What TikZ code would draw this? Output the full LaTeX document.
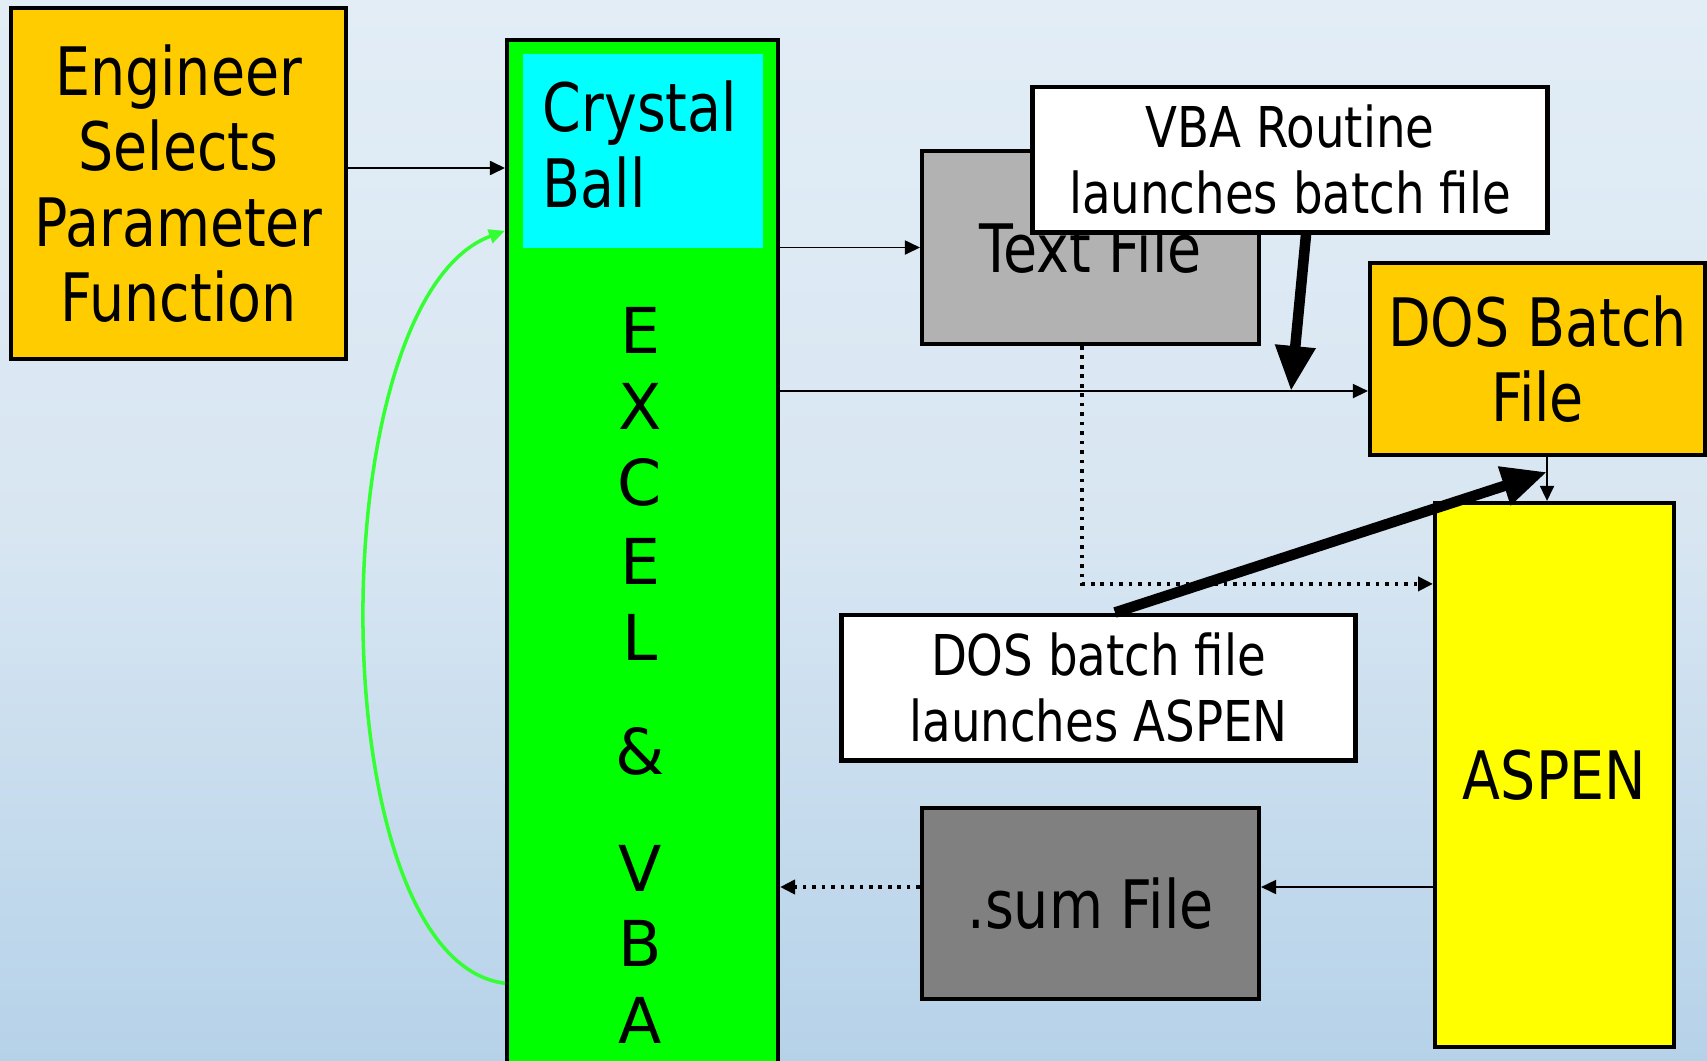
\documentclass[tikz,border=0pt]{standalone}
\usepackage{fontspec}
\setmainfont{DejaVu Sans}
\newfontfamily\narrowfont[FakeStretch=0.83]{DejaVu Sans}
\usepackage{tikz}
\usetikzlibrary{arrows.meta}
\definecolor{amber}{RGB}{255, 204, 0}
\definecolor{excelgreen}{RGB}{0, 255, 0}
\definecolor{ballcyan}{RGB}{0, 255, 255}
\definecolor{lightgrey}{RGB}{178, 178, 178}
\definecolor{darkgrey}{RGB}{128, 128, 128}
\definecolor{aspenyellow}{RGB}{255, 255, 0}
\definecolor{loopgreen}{RGB}{51, 255, 51}
\definecolor{skytop}{RGB}{226, 237, 246}
\definecolor{skymid}{RGB}{216, 230, 242}
\definecolor{skybottom}{RGB}{182, 210, 233}

\tikzset{
  box/.style={draw=black, line width=1.1pt, inner sep=0pt, align=center,
    font=\narrowfont\fontsize{19}{21.5}\selectfont},
  callout/.style={box, fill=white, line width=1.4pt,
    font=\narrowfont\fontsize{16}{18.5}\selectfont},
  letter/.style={inner sep=0pt, font=\fontsize{18}{18}\selectfont},
  flow/.style={line width=0.5pt, -{Triangle[length=1.5mm, width=1.4mm]}},
  dotflow/.style={flow, line width=1.1pt, dash pattern=on 1pt off 1.7pt},
  feedback/.style={loopgreen, line width=1pt, -{Triangle[length=1.6mm, width=1.4mm]}},
  launch/.style={line width=3pt, -{Triangle[length=4.5mm, width=3.8mm]}}
}

\begin{document}
\begin{tikzpicture}[x=0.01cm, y=-0.01cm]
  \shade[top color=skytop, bottom color=skybottom, middle color=skymid] (0,0) rectangle (1707,1060);
  \useasboundingbox (0,0) rectangle (1707,1060);
  \clip (0,0) rectangle (1707,1060);

  \node[box, fill=amber, minimum width=3.35cm, minimum height=3.51cm] (engineer)
    at (178.5,183.5) {Engineer\\Selects\\Parameter\\Function};

  \node[box, fill=excelgreen, minimum width=2.71cm, minimum height=10.4cm] (excel) at (642.5,560) {};
  \node[fill=ballcyan, inner sep=0pt, minimum width=2.4cm, minimum height=1.94cm] (ball) at (643,151) {};
  \node[anchor=north west, inner sep=0pt, align=left,
    font=\narrowfont\fontsize{19}{21.5}\selectfont] (balltext) at (542,80) {Crystal\\Ball};

  \foreach \ch/\y [count=\i] in {E/330, X/406, C/482, E/561, L/637, \&/751, V/868, B/943, A/1020} {
    \node[letter] (excel\i) at (640,\y) {\ch};
  }

  \node[box, fill=lightgrey, minimum width=3.37cm, minimum height=1.93cm] (textfile) at (1090.5,247.5) {Text File};
  \node[callout, minimum width=5.14cm, minimum height=1.45cm] (vba) at (1290,159.5) {VBA Routine\\launches batch file};
  \node[box, fill=amber, minimum width=3.35cm, minimum height=1.92cm] (dosbatch) at (1537.5,359) {DOS Batch\\File};
  \node[box, fill=aspenyellow, minimum width=2.39cm, minimum height=5.44cm] (aspen) at (1554.5,775) {ASPEN};
  \node[callout, minimum width=5.13cm, minimum height=1.45cm] (doscall) at (1098.5,687.5) {DOS batch file\\launches ASPEN};
  \node[box, fill=darkgrey, minimum width=3.37cm, minimum height=1.91cm] (sumfile) at (1090.5,903.5) {.sum File};

  % connector ends
  \coordinate (engout) at ([yshift=0.155cm]engineer.east);
  \coordinate (batchin) at ([yshift=-0.32cm]dosbatch.west);
  \coordinate (textdrop) at ([xshift=-0.085cm]textfile.south);
  \coordinate (aspenin) at ([yshift=1.91cm]aspen.west);
  \coordinate (dosdrop) at ([xshift=0.095cm]dosbatch.south);
  \coordinate (sumin) at ([yshift=0.165cm]sumfile.east);
  \coordinate (loopout) at ([yshift=-4.23cm]excel.west);
  \coordinate (loopin) at ([yshift=3.29cm]excel.west);
  \coordinate (vbaout) at ([xshift=0.16cm]vba.south);
  \coordinate (vbahit) at (vbaout |- batchin);
  \coordinate (doscallout) at ([xshift=0.165cm]doscall.north);
  \coordinate (doshit) at (dosdrop |- dosbatch.south);

  \draw[flow] (engout) -- (engout -| excel.west);
  \draw[feedback] (loopout) .. controls +(-187,-23) and +(-187,69) .. (loopin);
  \draw[flow] (excel.east |- textfile.west) -- (textfile.west);
  \draw[flow] (excel.east |- batchin) -- (batchin);
  \draw[dotflow] (textdrop) |- (aspenin);
  \draw[flow] (dosdrop) -- (dosdrop |- aspen.north);
  \draw[flow] (aspen.west |- sumin) -- (sumin);
  \draw[dotflow] (sumfile.west |- sumin) -- (excel.east |- sumin);

  \draw[launch] (vbaout) -- ([xshift=-0.15cm]vbahit);
  \draw[launch] (doscallout) -- ([yshift=-0.15cm]doshit);
\end{tikzpicture}
\end{document}
